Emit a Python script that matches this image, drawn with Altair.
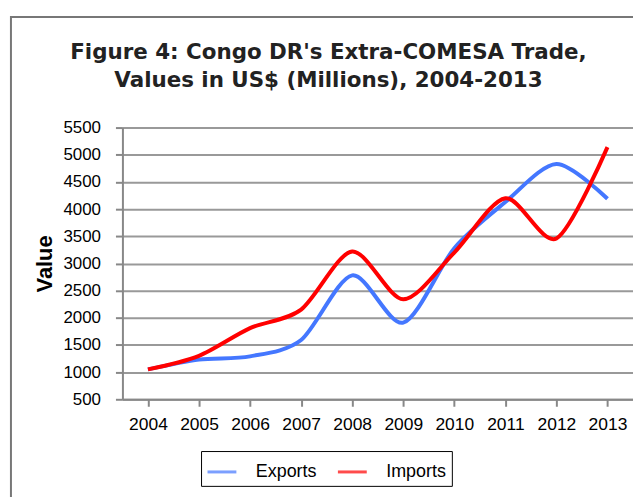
import altair as alt
import pandas as pd

years = ["2004", "2005", "2006", "2007", "2008", "2009", "2010", "2011", "2012", "2013"]
exports = [1050, 1230, 1290, 1590, 2780, 1910, 3280, 4130, 4830, 4190]
imports = [1050, 1300, 1810, 2150, 3220, 2340, 3200, 4200, 3460, 5140]
series = ["Exports", "Imports"]
colors = ["#4477ff", "#ff0000"]
y_ticks = list(range(500, 5501, 500))
title_lines = ["Figure 4: Congo DR's Extra-COMESA Trade,", "Values in US$ (Millions), 2004-2013"]

rows = []
for y, e, i in zip(years, exports, imports):
    rows.append({"Year": y, "Series": "Exports", "Value": e})
    rows.append({"Year": y, "Series": "Imports", "Value": i})
df = pd.DataFrame(rows)

lines = alt.Chart(df).mark_line(
    interpolate="cardinal", tension=0.15, strokeWidth=4
).encode(
    x=alt.X("Year:O", scale=alt.Scale(type="point", padding=0.5),
            axis=alt.Axis(title=None, labelAngle=0, labelFontSize=17.5, labelFont="Liberation Sans",
                          labelColor="#000", labelPadding=9, domainColor="#888", domainWidth=2,
                          tickColor="#888", tickWidth=2, tickSize=7, grid=False)),
    y=alt.Y("Value:Q", scale=alt.Scale(domain=[500, 5500], nice=False, zero=False),
            axis=alt.Axis(title="Value", values=y_ticks, format="d", labelFontSize=17,
                          labelFont="Liberation Sans",
                          labelColor="#000", titleFontSize=22, titleFont="Liberation Sans",
                          titleFontWeight="bold", titleColor="#000", titlePadding=6,
                          domainColor="#888", domainWidth=2, tickColor="#888", tickWidth=2,
                          tickSize=7, labelPadding=15, gridColor="#999", gridWidth=2)),
    color=alt.Color("Series:N", scale=alt.Scale(domain=series, range=colors),
                    legend=alt.Legend(title=None, orient="none", legendX=79, legendY=325,
                                      direction="horizontal", symbolType="stroke",
                                      symbolStrokeWidth=3, symbolSize=841, symbolOpacity=0.7,
                                      labelFontSize=18, labelFont="Liberation Sans", labelColor="#000",
                                      strokeColor="#000", padding=5, columnPadding=14,
                                      labelOffset=18, fillColor="white")),
)

frame = alt.Chart(pd.DataFrame({"a": [0]})).mark_rect(
    fill=None, stroke="#777", strokeWidth=2
).encode(
    x=alt.value(-112), x2=alt.value(620), y=alt.value(-111), y2=alt.value(500)
)

title1 = alt.Chart(pd.DataFrame({"t": [title_lines[0]]})).mark_text(
    font="DejaVu Sans", fontSize=21.5, fontWeight="bold", color="#222", align="center", baseline="alphabetic"
).encode(text="t:N", x=alt.value(207), y=alt.value(-68.5))
title2 = alt.Chart(pd.DataFrame({"t": [title_lines[1]]})).mark_text(
    font="DejaVu Sans", fontSize=21.5, fontWeight="bold", color="#222", align="center", baseline="alphabetic"
).encode(text="t:N", x=alt.value(207), y=alt.value(-40.3))

chart = alt.layer(frame, title1, title2, lines).properties(
    width=513, height=273,
    padding={"left": 123, "top": 127, "right": 0, "bottom": 97},
    autosize=alt.AutoSizeParams(type="none"),
).configure_view(stroke=None).configure(background="white")

chart.save("out.html", embed_options={"renderer": "svg", "actions": False})
